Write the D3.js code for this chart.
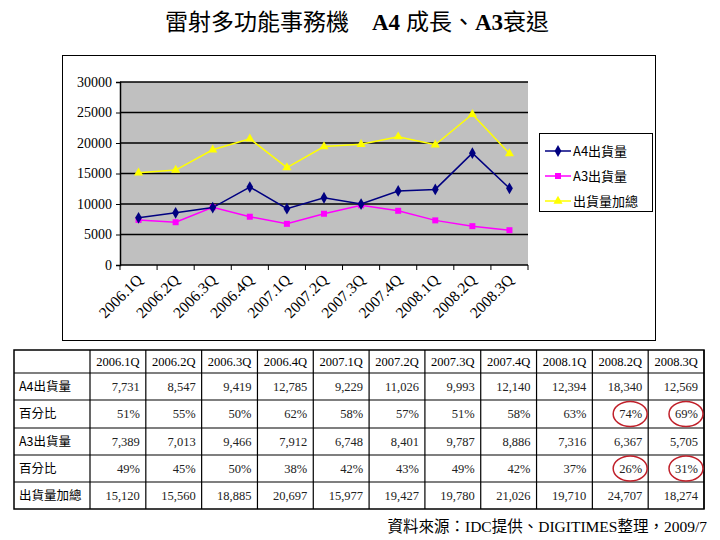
<!DOCTYPE html>
<html><head><meta charset="utf-8">
<script src="https://cdn.jsdelivr.net/npm/d3@7"></script>
<style>body{margin:0;background:#fff;}svg{display:block;}</style>
</head><body>
<svg id="c" width="720" height="540"></svg>
<script>
const categories = ["2006.1Q","2006.2Q","2006.3Q","2006.4Q","2007.1Q","2007.2Q","2007.3Q","2007.4Q","2008.1Q","2008.2Q","2008.3Q"];
const a4Values = [7731,8547,9419,12785,9229,11026,9993,12140,12394,18340,12569];
const a4Share = ["51%","55%","50%","62%","58%","57%","51%","58%","63%","74%","69%"];
const a3Values = [7389,7013,9466,7912,6748,8401,9787,8886,7316,6367,5705];
const a3Share = ["49%","45%","50%","38%","42%","43%","49%","42%","37%","26%","31%"];
const totalValues = [15120,15560,18885,20697,15977,19427,19780,21026,19710,24707,18274];
const yTicks = [0,5000,10000,15000,20000,25000,30000];
const seriesNames = ["A4出貨量","A3出貨量","出貨量加總"];
const rowLabels = ["A4出貨量","百分比","A3出貨量","百分比","出貨量加總"];
const highlighted = [[1,9],[1,10],[3,9],[3,10]]; // [row, column] circled cells

const serif = "'Liberation Serif','Noto Sans CJK TC',serif";
const cjk = "'Noto Sans CJK TC','Liberation Serif',sans-serif";
const svg = d3.select("#c");

// Title
const title = svg.append("text").attr("x",357).attr("y",30).attr("text-anchor","middle")
  .attr("font-size",23).attr("fill","#000");
title.append("tspan").attr("font-family",cjk).text("雷射多功能事務機　");
title.append("tspan").attr("font-family",serif).attr("font-weight","bold").text("A4 ");
title.append("tspan").attr("font-family",cjk).text("成長、");
title.append("tspan").attr("font-family",serif).attr("font-weight","bold").text("A3");
title.append("tspan").attr("font-family",cjk).text("衰退");

// Chart frame
svg.append("rect").attr("x",62.5).attr("y",55.5).attr("width",593).attr("height",285)
  .attr("fill","#fff").attr("stroke","#000").attr("stroke-width",1);

const x = d3.scaleBand().domain(categories).range([120,528]).padding(0);
const y = d3.scaleLinear().domain([0,30000]).range([265,82]);
const cx = d => x(d) + x.bandwidth()/2;

svg.append("rect").attr("x",120).attr("y",82).attr("width",408).attr("height",183).attr("fill","#c0c0c0");

svg.append("g").selectAll("line").data(yTicks.filter(t=>t>0)).join("line")
  .attr("x1",120).attr("x2",528).attr("y1",d=>y(d)).attr("y2",d=>y(d))
  .attr("stroke","#000").attr("stroke-width",1.5);

// Y axis
const yAxis = svg.append("g").attr("transform","translate(120,0)")
  .call(d3.axisLeft(y).tickValues(yTicks).tickSize(4).tickPadding(4).tickFormat(d3.format("d")));
yAxis.select(".domain").attr("stroke","#000").attr("stroke-width",1.5);
yAxis.selectAll("text").attr("font-family",serif).attr("font-size",14).attr("fill","#000");

// X axis (ticks at category boundaries)
const xg = svg.append("g").attr("transform","translate(0,265)");
xg.append("line").attr("x1",120).attr("x2",528).attr("stroke","#000").attr("stroke-width",1.5);
xg.selectAll("line.tk").data(categories.concat(["_end"])).join("line").attr("class","tk")
  .attr("x1",(d,i)=>120+i*x.bandwidth()).attr("x2",(d,i)=>120+i*x.bandwidth())
  .attr("y1",0).attr("y2",5).attr("stroke","#000");
xg.selectAll("text").data(categories).join("text")
  .attr("transform",d=>`translate(${cx(d)+1},12) rotate(-45)`)
  .attr("text-anchor","end").attr("dy","0.35em")
  .attr("font-family",serif).attr("font-size",15.5).attr("fill","#000").text(d=>d);

// Series
const series = [
  {name:seriesNames[0], values:a4Values, color:"#000080", sym:d3.symbolDiamond, size:40},
  {name:seriesNames[1], values:a3Values, color:"#ff00ff", sym:d3.symbolSquare, size:36},
  {name:seriesNames[2], values:totalValues, color:"#ffff00", sym:d3.symbolTriangle, size:36}
];
const line = d3.line().x((d,i)=>cx(categories[i])).y(d=>y(d));
[series[2],series[1],series[0]].forEach(s=>{
  svg.append("path").datum(s.values).attr("d",line).attr("fill","none")
    .attr("stroke",s.color).attr("stroke-width",1.5);
  svg.append("g").selectAll("path").data(s.values).join("path")
    .attr("transform",(d,i)=>`translate(${cx(categories[i])},${y(d)})`)
    .attr("d",d3.symbol().type(s.sym).size(s.size)).attr("fill",s.color);
});

// Legend
svg.append("rect").attr("x",539.5).attr("y",133.5).attr("width",113).attr("height",78)
  .attr("fill","#fff").attr("stroke","#000");
series.forEach((s,i)=>{
  const ly = 151 + i*25;
  svg.append("line").attr("x1",545).attr("x2",571).attr("y1",ly).attr("y2",ly)
    .attr("stroke",s.color).attr("stroke-width",1.5);
  svg.append("path").attr("transform",`translate(558,${ly})`)
    .attr("d",d3.symbol().type(s.sym).size(s.size)).attr("fill",s.color);
  svg.append("text").attr("x",573).attr("y",ly).attr("dy","0.35em")
    .attr("font-family",cjk).attr("font-size",13).attr("fill","#000").text(s.name);
});

// Table
const tx0 = 14, tx1 = 90, tx2 = 704;
const colW = (tx2 - tx1)/categories.length;
const rowTops = [350,373,400,428,455,482,509];
const tg = svg.append("g");
tg.append("rect").attr("x",tx0).attr("y",350).attr("width",tx2-tx0).attr("height",159)
  .attr("fill","none").attr("stroke","#000").attr("stroke-width",1.5);
rowTops.slice(1,-1).forEach(yy=>tg.append("line").attr("x1",tx0).attr("x2",tx2).attr("y1",yy).attr("y2",yy).attr("stroke","#000").attr("stroke-width",1.2));
d3.range(categories.length+1).forEach(i=>{
  const xx = tx1 + i*colW;
  tg.append("line").attr("x1",xx).attr("x2",xx).attr("y1",350).attr("y2",509).attr("stroke","#000").attr("stroke-width",1.2);
});
categories.forEach((c,i)=>{
  tg.append("text").attr("x",tx1+i*colW+colW/2).attr("y",(rowTops[0]+rowTops[1])/2).attr("dy","0.35em")
    .attr("text-anchor","middle").attr("font-family",serif).attr("font-size",12.5).attr("fill","#000").text(c);
});
const fmt = d3.format(",");
const rows = [a4Values.map(fmt), a4Share, a3Values.map(fmt), a3Share, totalValues.map(fmt)];
rows.forEach((r,ri)=>{
  const yc = (rowTops[ri+1]+rowTops[ri+2])/2;
  tg.append("text").attr("x",tx0+5).attr("y",yc).attr("dy","0.35em")
    .attr("font-family",cjk).attr("font-size",12.5).attr("fill","#000").text(rowLabels[ri]);
  r.forEach((v,ci)=>{
    tg.append("text").attr("x",tx1+(ci+1)*colW-6).attr("y",yc).attr("dy","0.35em")
      .attr("text-anchor","end").attr("font-family",serif).attr("font-size",12.5).attr("fill","#222").text(v);
  });
});
highlighted.forEach(([ri,ci])=>{
  const yc = (rowTops[ri+1]+rowTops[ri+2])/2;
  tg.append("ellipse").attr("cx",tx1+(ci+1)*colW-18).attr("cy",yc).attr("rx",17).attr("ry",12.5)
    .attr("fill","none").attr("stroke","#c0202a").attr("stroke-width",1.5);
});

// Source
const src = svg.append("text").attr("x",707).attr("y",532).attr("text-anchor","end")
  .attr("font-size",15.5).attr("fill","#000");
src.append("tspan").attr("font-family",cjk).text("資料來源：");
src.append("tspan").attr("font-family",serif).text("IDC");
src.append("tspan").attr("font-family",cjk).text("提供、");
src.append("tspan").attr("font-family",serif).text("DIGITIMES");
src.append("tspan").attr("font-family",cjk).text("整理，");
src.append("tspan").attr("font-family",serif).text("2009/7");
</script>
</body></html>
